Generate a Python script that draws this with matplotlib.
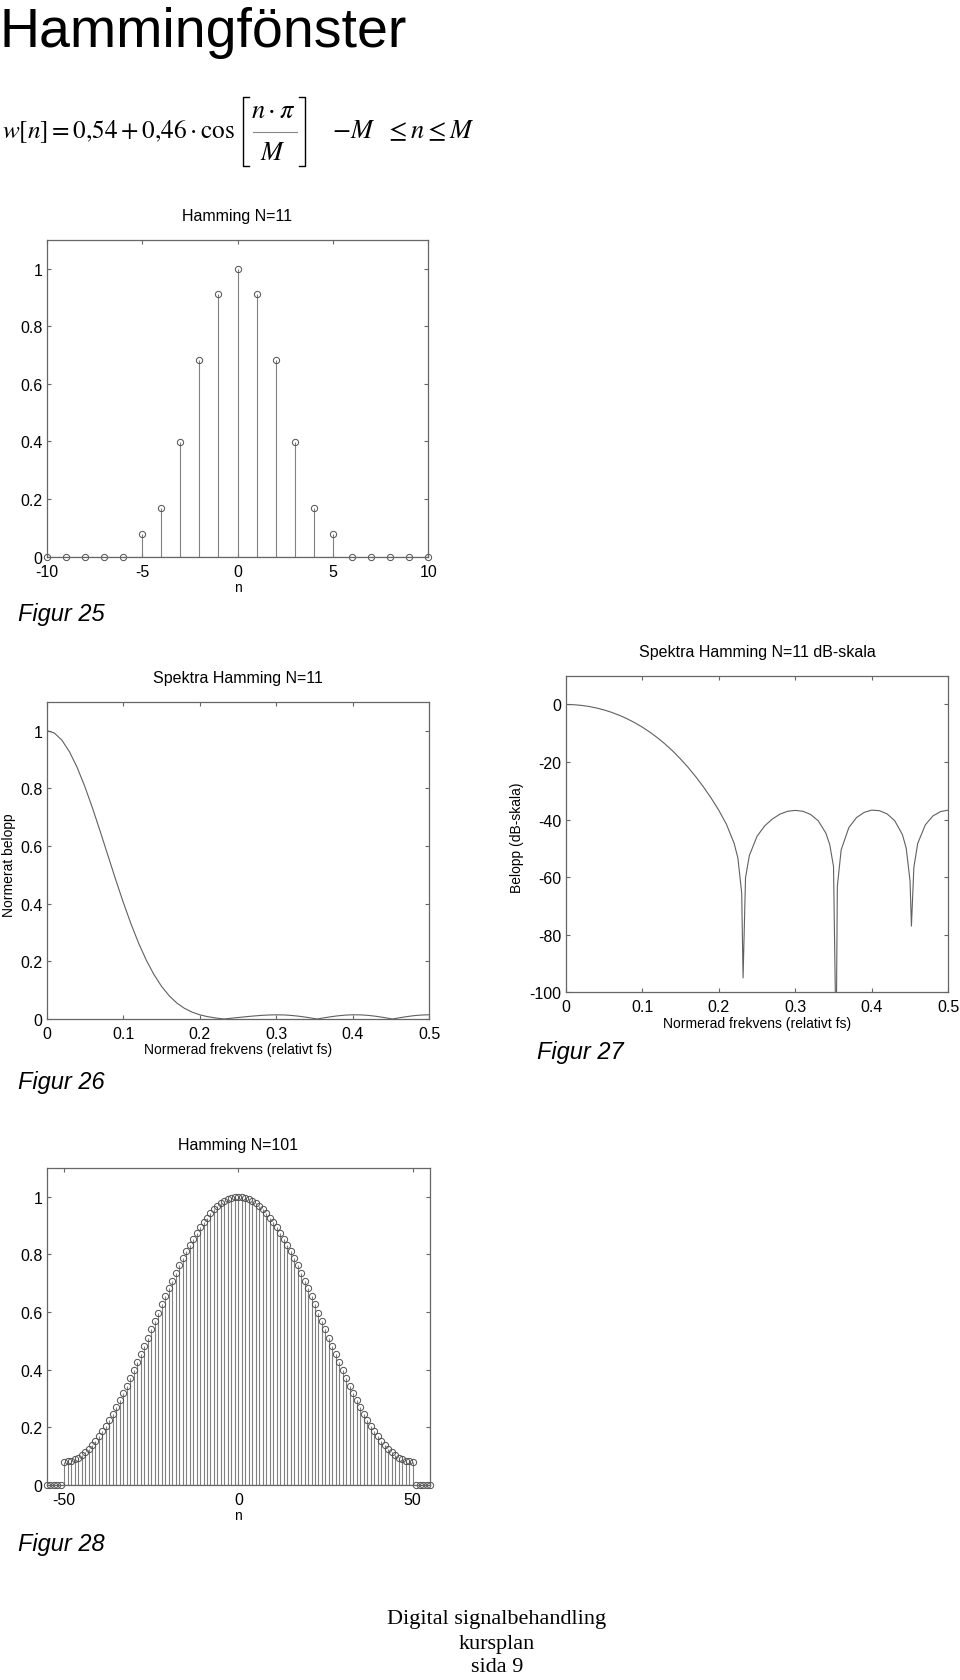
import matplotlib
matplotlib.use("Agg")
import matplotlib.pyplot as plt
from matplotlib.lines import Line2D
import numpy as np

plt.rcParams['font.family'] = ['Liberation Sans', 'DejaVu Sans']
plt.rcParams['axes.unicode_minus'] = False
plt.rcParams['mathtext.fontset'] = 'stix'

W, H = 960, 1681

# Hamming N=11, n = -10..10
n11 = np.arange(-10, 11)
w11 = [0, 0, 0, 0, 0, 0.08, 0.168, 0.398, 0.682, 0.912, 1.0,
       0.912, 0.682, 0.398, 0.168, 0.08, 0, 0, 0, 0, 0]

# Spectrum (linear), normalised frequency
f_lin = [0, 0.01, 0.02, 0.03, 0.04, 0.05, 0.06, 0.07, 0.08, 0.09, 0.10,
         0.11, 0.12, 0.13, 0.14, 0.15, 0.16, 0.17, 0.18, 0.19, 0.20,
         0.21, 0.22, 0.23, 0.2318, 0.24, 0.25, 0.26, 0.27, 0.28, 0.29, 0.30,
         0.31, 0.32, 0.33, 0.34, 0.35, 0.3534, 0.36, 0.37, 0.38, 0.39, 0.40,
         0.41, 0.42, 0.43, 0.44, 0.45, 0.4518, 0.46, 0.47, 0.48, 0.49, 0.50]
mag_lin = [1.0, 0.9915, 0.9662, 0.9254, 0.8708, 0.8047, 0.7301, 0.6498, 0.5669, 0.4844, 0.4050,
           0.3308, 0.2637, 0.2048, 0.1547, 0.1135, 0.0807, 0.0555, 0.0370, 0.0238, 0.0146,
           0.0083, 0.0039, 0.0005, 0.0, 0.0024, 0.0051, 0.0078, 0.0103, 0.0124, 0.0139, 0.0145,
           0.0140, 0.0123, 0.0095, 0.0058, 0.0015, 0.0, 0.0030, 0.0073, 0.0109, 0.0134, 0.0146,
           0.0143, 0.0126, 0.0095, 0.0055, 0.0009, 0.0, 0.0038, 0.0081, 0.0116, 0.0138, 0.0146]

# Spectrum (dB)
f_db = [0, 0.01, 0.02, 0.03, 0.04, 0.05, 0.06, 0.07, 0.08, 0.09, 0.10,
        0.11, 0.12, 0.13, 0.14, 0.15, 0.16, 0.17, 0.18, 0.19, 0.20,
        0.21, 0.22, 0.225, 0.23, 0.2318, 0.235, 0.24, 0.25, 0.26, 0.27, 0.28, 0.29, 0.30,
        0.31, 0.32, 0.33, 0.34, 0.345, 0.35, 0.3534, 0.355, 0.36, 0.37, 0.38, 0.39, 0.40,
        0.41, 0.42, 0.43, 0.44, 0.445, 0.45, 0.4518, 0.455, 0.46, 0.47, 0.48, 0.49, 0.50]
mag_db = [0, -0.07, -0.30, -0.67, -1.20, -1.89, -2.73, -3.75, -4.93, -6.30, -7.85,
          -9.61, -11.58, -13.77, -16.21, -18.90, -21.86, -25.11, -28.64, -32.49, -36.71,
          -41.59, -48.16, -53.3, -65.5, -95.0, -60.2, -52.5, -45.8, -42.2, -39.8, -38.1, -37.1, -36.8,
          -37.1, -38.2, -40.4, -44.7, -48.6, -56.3, -120.0, -63.1, -50.5, -42.8, -39.3, -37.5, -36.7,
          -36.9, -38.0, -40.4, -45.2, -49.9, -61.3, -77.0, -56.6, -48.3, -41.8, -38.7, -37.2, -36.7]

# Hamming N=101, n = -55..55
n101 = np.arange(-55, 56)
w101 = [0, 0, 0, 0, 0,
        0.080, 0.081, 0.084, 0.088, 0.094, 0.103, 0.112, 0.124, 0.137, 0.152,
        0.168, 0.186, 0.205, 0.225, 0.247, 0.270, 0.294, 0.318, 0.344, 0.371,
        0.398, 0.426, 0.454, 0.482, 0.511, 0.540, 0.569, 0.598, 0.626, 0.654,
        0.682, 0.709, 0.736, 0.762, 0.786, 0.810, 0.833, 0.855, 0.875, 0.894,
        0.912, 0.928, 0.943, 0.956, 0.968, 0.977, 0.986, 0.992, 0.996, 0.999,
        1.000,
        0.999, 0.996, 0.992, 0.986, 0.977, 0.968, 0.956, 0.943, 0.928, 0.912,
        0.894, 0.875, 0.855, 0.833, 0.810, 0.786, 0.762, 0.736, 0.709, 0.682,
        0.654, 0.626, 0.598, 0.569, 0.540, 0.511, 0.482, 0.454, 0.426, 0.398,
        0.371, 0.344, 0.318, 0.294, 0.270, 0.247, 0.225, 0.205, 0.186, 0.168,
        0.152, 0.137, 0.124, 0.112, 0.103, 0.094, 0.088, 0.084, 0.081, 0.080,
        0, 0, 0, 0, 0]

unit_ticks = [0, 0.2, 0.4, 0.6, 0.8, 1.0]
unit_labels = ['0', '0.2', '0.4', '0.6', '0.8', '1']
freq_ticks = [0, 0.1, 0.2, 0.3, 0.4, 0.5]
freq_labels = ['0', '0.1', '0.2', '0.3', '0.4', '0.5']

FRAME = '#666666'
LINE = '#606060'


def box(x0, y0, x1, y1):
    # pixel box -> figure fraction
    return [x0 / W, 1 - y1 / H, (x1 - x0) / W, (y1 - y0) / H]


def ftext(x, y, s, **kw):
    fig.text(x / W, 1 - y / H, s, **kw)


def fline(xs, ys, **kw):
    fig.add_artist(Line2D([x / W for x in xs], [1 - y / H for y in ys],
                          transform=fig.transFigure, **kw))


def style(ax):
    for sp in ax.spines.values():
        sp.set_color(FRAME)
        sp.set_linewidth(0.9)
    ax.tick_params(direction='in', length=3, width=0.8, color=FRAME,
                   top=True, right=True, labelsize=11.5)
    ax.tick_params(axis='x', pad=5)
    ax.tick_params(axis='y', pad=3)


def stem(ax, n, w):
    markers, stems, base = ax.stem(n, w, linefmt='-', markerfmt='o', basefmt='-')
    stems.set_color('#808080')
    stems.set_linewidth(0.8)
    markers.set_markerfacecolor('none')
    markers.set_markeredgecolor('#505050')
    markers.set_markeredgewidth(0.7)
    markers.set_markersize(4.5)
    markers.set_clip_on(False)
    base.set_color('#505050')
    base.set_linewidth(0.8)


fig = plt.figure(figsize=(W / 100, H / 100), dpi=100)

ftext(0, 47, 'Hammingfönster', fontsize=40, ha='left', va='baseline')

# formula, built from pieces
ftext(2, 138, r'$w\left[n\right]=0{,}54+0{,}46\cdot\cos$', fontsize=18.2, ha='left', va='baseline')
ftext(273, 118, r'$n\cdot\pi$', fontsize=19, ha='center', va='baseline')
ftext(273, 160, r'$M$', fontsize=19, ha='center', va='baseline')
fline([253, 297], [133, 133], color='#888888', lw=0.8)
fline([249, 243, 243, 249], [98, 98, 167, 167], color='k', lw=1.0)
fline([299, 305, 305, 299], [98, 98, 167, 167], color='k', lw=1.0)
ftext(332, 138, r'$-M\ \ \leq n \leq M$', fontsize=19, ha='left', va='baseline')

# Figur 25
ax1 = fig.add_axes(box(46.7, 240.7, 428.3, 557.7))
stem(ax1, n11, w11)
ax1.set_xlim(-10, 10)
ax1.set_ylim(0, 1.1)
ax1.set_xticks([-10, -5, 0, 5, 10])
ax1.set_xticklabels(['-10', '-5', '0', '5', '10'])
ax1.set_yticks(unit_ticks)
ax1.set_yticklabels(unit_labels)
style(ax1)
ax1.set_title('Hamming N=11', fontsize=11.5, pad=14)
ax1.set_xlabel('n', fontsize=10, labelpad=1)
ftext(18, 615, 'Figur 25', fontsize=17, style='italic', va='center')

# Figur 26
ax2 = fig.add_axes(box(46.7, 702.7, 429.3, 1020))
ax2.plot(f_lin, mag_lin, color=LINE, lw=0.8)
ax2.set_xlim(0, 0.5)
ax2.set_ylim(0, 1.1)
ax2.set_xticks(freq_ticks)
ax2.set_xticklabels(freq_labels)
ax2.set_yticks(unit_ticks)
ax2.set_yticklabels(unit_labels)
style(ax2)
ax2.set_title('Spektra Hamming N=11', fontsize=11.5, pad=14)
ax2.set_xlabel('Normerad frekvens (relativt fs)', fontsize=10, labelpad=1)
ftext(9, 865, 'Normerat belopp', fontsize=10, rotation=90, ha='center', va='center')
ftext(18, 1083, 'Figur 26', fontsize=17, style='italic', va='center')

# Figur 27
ax3 = fig.add_axes(box(565.7, 676.7, 948.3, 993.3))
ax3.plot(f_db, mag_db, color=LINE, lw=0.8)
ax3.set_xlim(0, 0.5)
ax3.set_ylim(-100, 10)
ax3.set_xticks(freq_ticks)
ax3.set_xticklabels(freq_labels)
ax3.set_yticks([-100, -80, -60, -40, -20, 0])
ax3.set_yticklabels(['-100', '-80', '-60', '-40', '-20', '0'])
style(ax3)
ax3.set_title('Spektra Hamming N=11 dB-skala', fontsize=11.5, pad=14)
ax3.set_xlabel('Normerad frekvens (relativt fs)', fontsize=10, labelpad=1)
ftext(517, 838, 'Belopp (dB-skala)', fontsize=10, rotation=90, ha='center', va='center')
ftext(537, 1052, 'Figur 27', fontsize=17, style='italic', va='center')

# Figur 28
ax4 = fig.add_axes(box(46.7, 1169, 430, 1485.7))
stem(ax4, n101, w101)
ax4.set_xlim(-55, 55)
ax4.set_ylim(0, 1.1)
ax4.set_xticks([-50, 0, 50])
ax4.set_xticklabels(['-50', '0', '50'])
ax4.set_yticks(unit_ticks)
ax4.set_yticklabels(unit_labels)
style(ax4)
ax4.set_title('Hamming N=101', fontsize=11.5, pad=14)
ax4.set_xlabel('n', fontsize=10, labelpad=1)
ftext(18, 1545, 'Figur 28', fontsize=17, style='italic', va='center')

# footer
for y, s in [(1620, 'Digital signalbehandling'), (1645, 'kursplan'), (1668, 'sida 9')]:
    ftext(497, y, s, fontsize=16, family='Liberation Serif', ha='center', va='center')

fig.savefig('out.png', dpi=100)
